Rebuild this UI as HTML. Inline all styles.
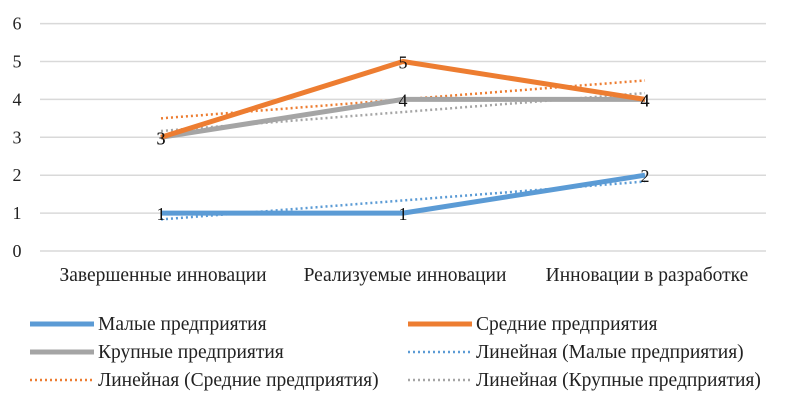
<!DOCTYPE html>
<html><head><meta charset="utf-8"><style>
body{margin:0;background:#fff;}
svg{display:block;font-family:"Liberation Serif",serif;}
</style></head><body>
<svg id="chart" width="789" height="402"></svg>
<script>
const categories=["Завершенные инновации","Реализуемые инновации","Инновации в разработке"];
const smallValues=[1,1,2];
const mediumValues=[3,5,4];
const largeValues=[3,4,4];
const yTicks=[0,1,2,3,4,5,6];
const seriesNames=["Малые предприятия","Средние предприятия","Крупные предприятия"];
const NS="http://www.w3.org/2000/svg";
const svg=document.getElementById('chart');
const x0=40,band=242,yBase=251,unit=37.9;
const xs=i=>x0+band*(i+0.5);
const ys=v=>yBase-v*unit;
function el(t,a,p){const e=document.createElementNS(NS,t);for(const k in a)e.setAttribute(k,a[k]);(p||svg).appendChild(e);return e;}
yTicks.forEach(v=>{
  const g=el('line',{x1:40,x2:766,y1:ys(v),y2:ys(v),stroke:'#d9d9d9','stroke-width':1.5});
  
  
  const t=el('text',{x:17,y:ys(v)+6,'text-anchor':'middle','font-size':18,fill:'#222'});
  t.textContent=v;
  
  
});
categories.forEach((c,i)=>{
  const t=el('text',{x:xs(i)+2,y:281,'text-anchor':'middle','font-size':19.5,fill:'#222'});
  t.textContent=c;
  
  
});
function fit(vals){const n=vals.length;let mx=(n-1)/2,my=vals.reduce((a,b)=>a+b,0)/n,num=0,den=0;vals.forEach((v,i)=>{num+=(i-mx)*(v-my);den+=(i-mx)*(i-mx);});const s=num/den;return [my-s*mx,my+s*(n-1-mx)];}
const colors=['#5b9bd5','#ed7d31','#a5a5a5'];
const all=[smallValues,mediumValues,largeValues];
const trendNames=['trend-small','trend-medium','trend-large'];
all.forEach((vals,k)=>{
  const [a,b]=fit(vals);
  const l=el('line',{x1:xs(0),y1:ys(a),x2:xs(vals.length-1),y2:ys(b),stroke:colors[k],'stroke-width':2.5,'stroke-dasharray':'2 3'});
  
  
});
const lineNames=['line-small','line-medium','line-large'];
[2,0,1].forEach(k=>{
  const vals=all[k];
  const p=el('polyline',{points:vals.map((v,i)=>xs(i)+','+ys(v)).join(' '),fill:'none',stroke:colors[k],'stroke-width':5,'stroke-linejoin':'round'});
  
  
});
all.forEach((vals,k)=>{
  vals.forEach((v,i)=>{
    const t=el('text',{x:xs(i),y:ys(v)+7,'text-anchor':'middle','font-size':18,fill:'#111'});
    t.textContent=v;
    
    
  });
});
const legend=[
 [30,324,colors[0],false,seriesNames[0]],[408,324,colors[1],false,seriesNames[1]],
 [30,352,colors[2],false,seriesNames[2]],[408,352,colors[0],true,'Линейная ('+seriesNames[0]+')'],
 [30,380,colors[1],true,'Линейная ('+seriesNames[1]+')'],[408,380,colors[2],true,'Линейная ('+seriesNames[2]+')']];
legend.forEach(([x,y,c,d,txt])=>{
  const g=el('g',{});
  
  
  el('line',{x1:x,x2:x+64,y1:y,y2:y,stroke:c,'stroke-width':d?2.5:5,'stroke-dasharray':d?'2 3':'none'},g);
  const t=el('text',{x:x+68,y:y+6,'font-size':19.5,fill:'#222'},g);
  t.textContent=txt;
});
</script>
</body></html>
